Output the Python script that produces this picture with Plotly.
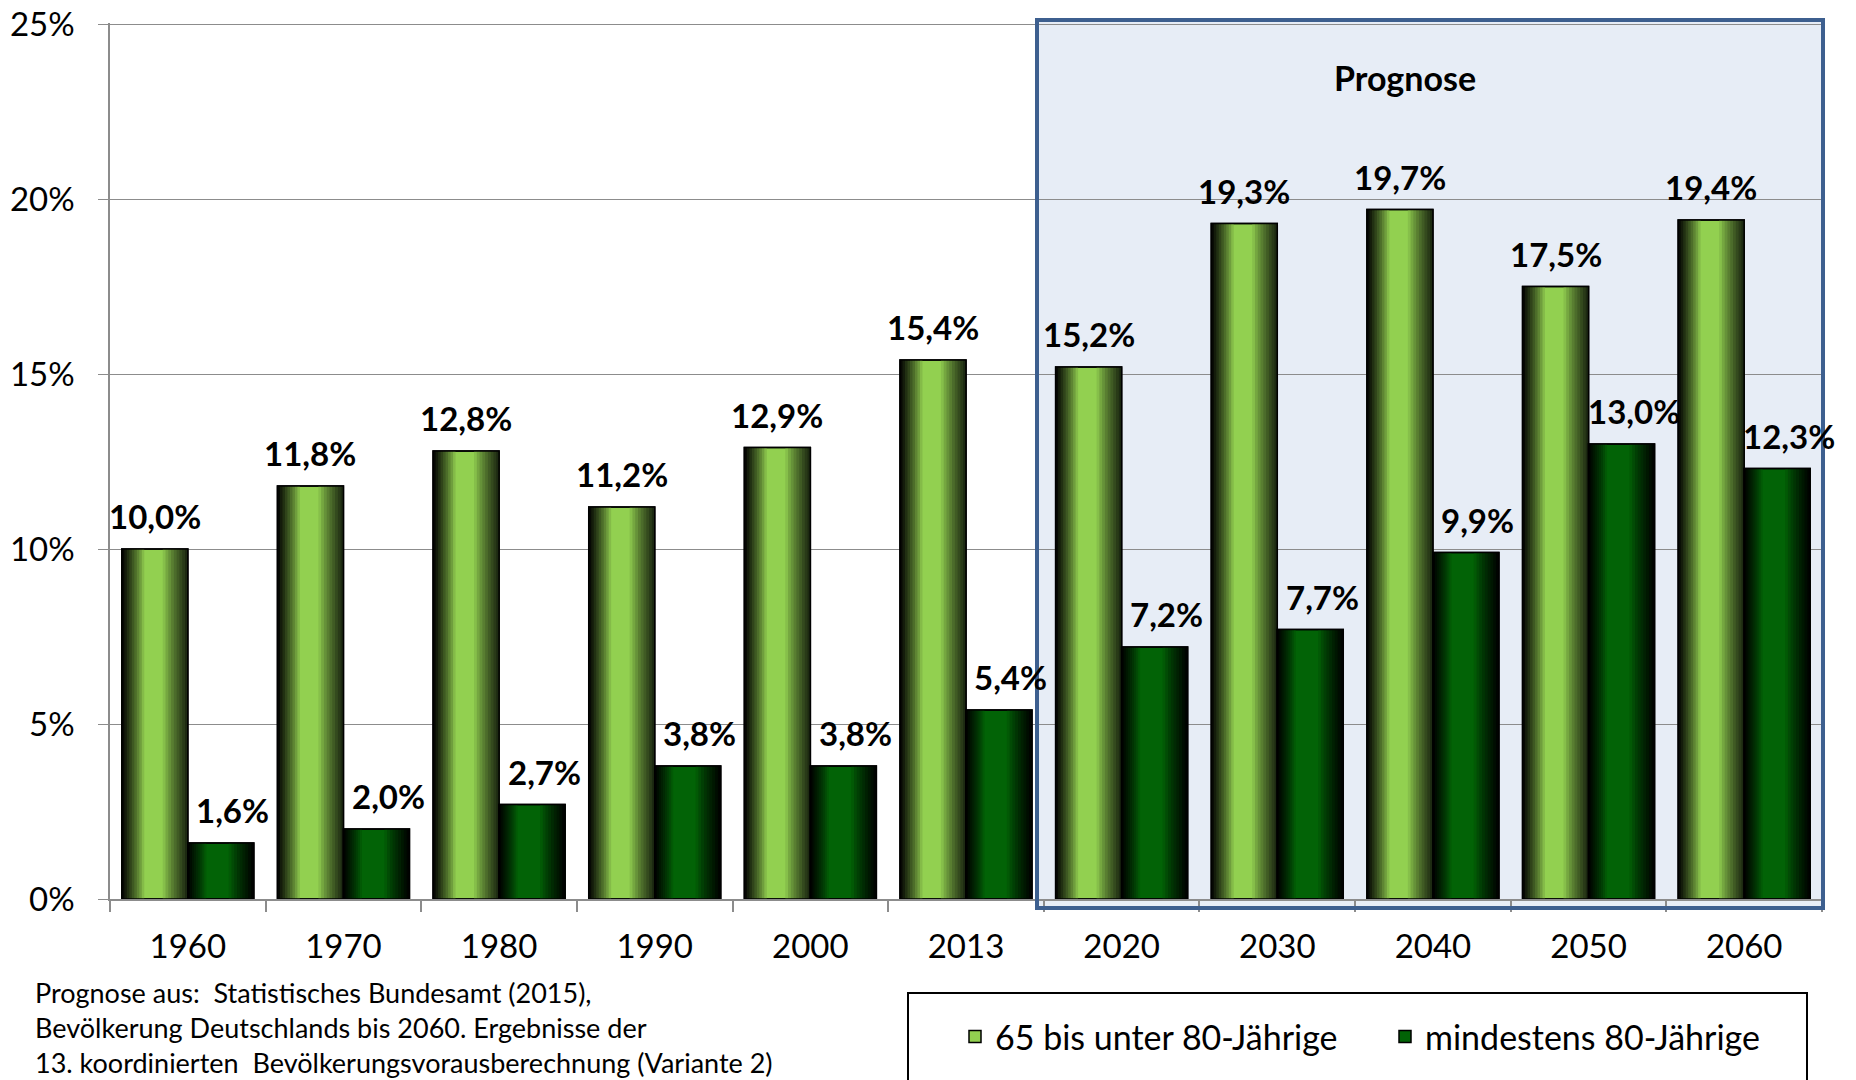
import plotly.graph_objects as go

# ---------------- data ----------------
years = ["1960", "1970", "1980", "1990", "2000", "2013", "2020", "2030", "2040", "2050", "2060"]
share_65_to_80 = [10.0, 11.8, 12.8, 11.2, 12.9, 15.4, 15.2, 19.3, 19.7, 17.5, 19.4]
share_80_plus = [1.6, 2.0, 2.7, 3.8, 3.8, 5.4, 7.2, 7.7, 9.9, 13.0, 12.3]
series_names = ["65 bis unter 80-Jährige", "mindestens 80-Jährige"]
y_tick_values = [0, 5, 10, 15, 20, 25]
y_tick_labels = ["0%", "5%", "10%", "15%", "20%", "25%"]
forecast_label = "Prognose"
footnote_lines = [
    "Prognose aus:  Statistisches Bundesamt (2015),",
    "Bevölkerung Deutschlands bis 2060. Ergebnisse der",
    "13. koordinierten  Bevölkerungsvorausberechnung (Variante 2)",
]

# ---------------- layout constants ----------------
FONT = "Lato"
PAGE = 8                      # default body margin of the html page
W, H = 1856 - PAGE, 1080 - PAGE
PL, PT, PR, PB = 110, 23, 1822, 899   # plot area in screen pixels
Y_MAX = 25.03
ML, MT = PL - PAGE, PT - PAGE
PW, PH = PR - PL, PB - PT
MR = W - ML - PW
MB = H - MT - PH
BAR_W = 0.424
N_STEPS = 9
GRID = "#8c8c8c"


def px_x(p):
    return (p - PL) / PW


def px_y(p):
    return (PB - p) / PH


def hex2rgb(h):
    h = h.lstrip("#")
    return tuple(int(h[i:i + 2], 16) for i in (0, 2, 4))


def mix(c1, c2, t):
    a, b = hex2rgb(c1), hex2rgb(c2)
    r = [round(a[i] + (b[i] - a[i]) * t) for i in range(3)]
    return "rgb(%d,%d,%d)" % tuple(r)


styles = [
    dict(center="#92d050", left_edge="#000000", right_edge="#18220f",
         left_zone=0.34, right_zone=0.38, offset=-BAR_W, xshift=0),
    dict(center="#026306", left_edge="#000000", right_edge="#000000",
         left_zone=0.28, right_zone=0.38, offset=0.0, xshift=12),
]

idx = list(range(len(years)))
n = len(idx)
fig = go.Figure()

for vals, name, st in zip([share_65_to_80, share_80_plus], series_names, styles):
    off = st["offset"]
    # base bar (center colour) - also used for the legend entry
    fig.add_trace(go.Bar(
        x=idx, y=vals, width=BAR_W, offset=off, name=name,
        marker=dict(color=st["center"], line=dict(color="black", width=1.5)),
        hoverinfo="skip", showlegend=True,
    ))
    # gradient strips at both sides of every bar
    for j in range(N_STEPS):
        t = ((j + 0.5) / N_STEPS) ** 0.8
        wl = BAR_W * st["left_zone"] * (N_STEPS - j) / N_STEPS
        wr = BAR_W * st["right_zone"] * (N_STEPS - j) / N_STEPS
        cl = mix(st["center"], st["left_edge"], t)
        cr = mix(st["center"], st["right_edge"], t)
        fig.add_trace(go.Bar(
            x=idx + idx, y=list(vals) + list(vals),
            width=[wl] * n + [wr] * n,
            offset=[off] * n + [off + BAR_W - wr] * n,
            marker=dict(color=[cl] * n + [cr] * n, line=dict(width=0)),
            hoverinfo="skip", showlegend=False,
        ))
    # outline on top
    fig.add_trace(go.Bar(
        x=idx, y=vals, width=BAR_W, offset=off,
        marker=dict(color="rgba(0,0,0,0)", line=dict(color="black", width=1.5)),
        hoverinfo="skip", showlegend=False,
    ))
    # value labels
    for i, v in zip(idx, vals):
        fig.add_annotation(
            x=i + off + BAR_W / 2, y=v, text=("%.1f" % v).replace(".", ",") + "%",
            showarrow=False, xanchor="center", yanchor="middle", yshift=33, xshift=st["xshift"],
            font=dict(family=FONT, size=33, color="black", weight="bold"),
        )

# forecast box (fill below, border above)
bx0, bx1 = px_x(1037), px_x(1823)
by0, by1 = px_y(908), px_y(20)
fig.add_shape(type="rect", xref="paper", yref="paper", x0=bx0, x1=bx1, y0=by0, y1=by1,
              fillcolor="#e7edf6", line=dict(width=0), layer="below")
fig.add_shape(type="rect", xref="paper", yref="paper", x0=bx0, x1=bx1, y0=by0, y1=by1,
              fillcolor="rgba(0,0,0,0)", line=dict(color="#3d5f8f", width=4), layer="above")
fig.add_annotation(xref="paper", yref="paper", x=px_x(1405), y=px_y(78), text=forecast_label,
                   xanchor="center", yanchor="middle", showarrow=False,
                   font=dict(family=FONT, size=34, color="black", weight="bold"))

# legend box
fig.add_shape(type="rect", xref="paper", yref="paper",
              x0=px_x(908), x1=px_x(1807), y0=px_y(1090), y1=px_y(993),
              fillcolor="white", line=dict(color="black", width=2), layer="above")

# footnote
for line, yp in zip(footnote_lines, [992, 1027, 1062]):
    fig.add_annotation(xref="paper", yref="paper", x=px_x(33), y=px_y(yp), text=line,
                       xanchor="left", yanchor="middle", showarrow=False,
                       font=dict(family=FONT, size=27, color="black"))

fig.update_layout(
    width=W, height=H,
    margin=dict(l=ML, r=MR, t=MT, b=MB, pad=0, autoexpand=False),
    paper_bgcolor="white", plot_bgcolor="white",
    barmode="overlay",
    font=dict(family=FONT, size=30, color="black"),
    showlegend=True,
    legend=dict(orientation="h", x=px_x(955), xanchor="left", y=px_y(1037), yanchor="middle",
                bgcolor="rgba(0,0,0,0)", borderwidth=0, entrywidth=385,
                font=dict(family=FONT, size=34, color="black"), traceorder="normal"),
    xaxis=dict(
        range=[-0.5, len(years) - 0.5], tickmode="array", tickvals=idx, ticktext=years,
        ticks="", showgrid=False, zeroline=False, showline=True, linecolor=GRID, linewidth=1.5,
        ticklabelstandoff=18, tickfont=dict(family=FONT, size=33, color="black"),
        minor=dict(tickmode="array", tickvals=[i - 0.5 for i in range(len(years) + 1)],
                   ticks="outside", ticklen=11, tickcolor=GRID, tickwidth=1.5, showgrid=False),
        ticklabeloverflow="allow", automargin=False, fixedrange=True,
    ),
    yaxis=dict(
        range=[0, Y_MAX], tickmode="array", tickvals=y_tick_values, ticktext=y_tick_labels,
        showgrid=True, gridcolor=GRID, gridwidth=1.4, zeroline=False,
        showline=True, linecolor=GRID, linewidth=1.5,
        ticks="outside", ticklen=10, tickcolor=GRID, tickwidth=1.4,
        ticklabelstandoff=17, tickfont=dict(family=FONT, size=33, color="black"),
        ticklabeloverflow="allow", automargin=False, fixedrange=True,
    ),
)

fig.write_html("out.html")
